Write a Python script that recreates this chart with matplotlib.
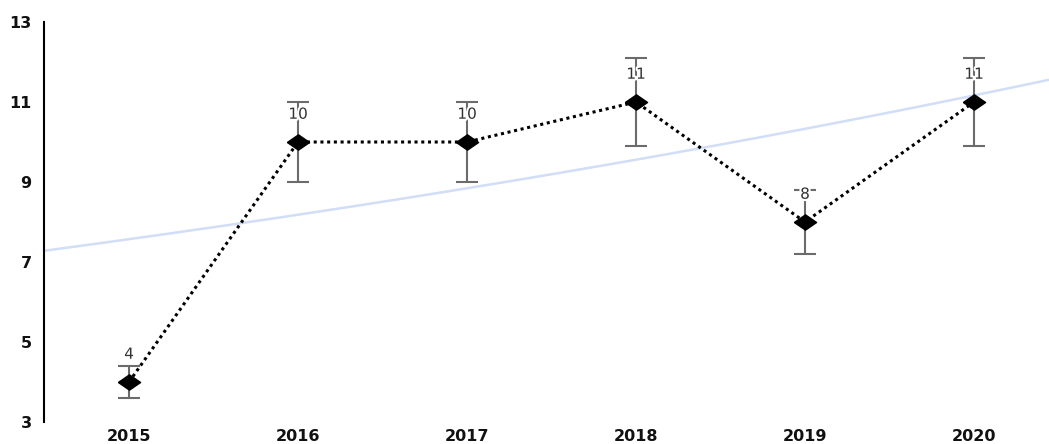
import matplotlib
matplotlib.use("Agg")
import matplotlib.pyplot as plt
import matplotlib.patheffects as pe
import numpy as np

# ---- data ----
years = ["2015", "2016", "2017", "2018", "2019", "2020"]
values = [4, 10, 10, 11, 8, 11]
errors = [0.4, 1.0, 1.0, 1.1, 0.8, 1.1]
yticks = [3, 5, 7, 9, 11, 13]
# exponential trend line  value = a * exp(b * index)
trend_a = 7.57
trend_b = 0.0777

W, H = 1049, 444
fig = plt.figure(figsize=(W / 100, H / 100), dpi=100)
ax = fig.add_axes([44 / W, (H - 422) / H, 1 - 44 / W, 400 / H])

x = np.arange(len(years))
x_left, x_right = -0.503, 5.444

# trend line
tx = np.linspace(x_left, x_right, 200)
ax.plot(tx, trend_a * np.exp(trend_b * tx), color="#d2ddf7", lw=1.8, zorder=1,
        solid_capstyle="butt")

# error bars
ax.errorbar(x, values, yerr=errors, fmt="none", ecolor="#6b6b6b", elinewidth=1.5,
            capsize=8, capthick=1.5, zorder=2)

# dotted connecting line
ax.plot(x, values, color="black", lw=2.2, linestyle=(0, (1, 1.2)), zorder=3)

# wide diamond markers
diamond = [(-1.45, 0), (0, 1), (1.45, 0), (0, -1), (-1.45, 0)]
ax.plot(x, values, linestyle="none", marker=diamond, markersize=16,
        color="black", zorder=4)

# value labels
for xi, v in zip(x, values):
    ax.annotate(str(v), (xi, v), xytext=(0, 20), textcoords="offset points",
                ha="center", va="center", fontsize=11, color="#333333",
                family="DejaVu Sans", zorder=5,
                path_effects=[pe.withStroke(linewidth=3, foreground="white")])

ax.set_xlim(x_left, x_right)
ax.set_ylim(3, 13)
ax.set_yticks(yticks)
ax.set_yticklabels([str(t) for t in yticks])
ax.set_xticks(x)
ax.set_xticklabels(years)

for s in ["top", "right", "bottom"]:
    ax.spines[s].set_visible(False)
ax.spines["left"].set_linewidth(1.5)
ax.spines["left"].set_color("black")

ax.tick_params(axis="y", length=0, pad=9)
ax.tick_params(axis="x", length=0, pad=5)
for lab in ax.get_xticklabels() + ax.get_yticklabels():
    lab.set_fontfamily("DejaVu Sans")
    lab.set_fontweight("bold")
    lab.set_fontsize(11.5)
    lab.set_color("#111111")

fig.savefig("out.png", dpi=100)
